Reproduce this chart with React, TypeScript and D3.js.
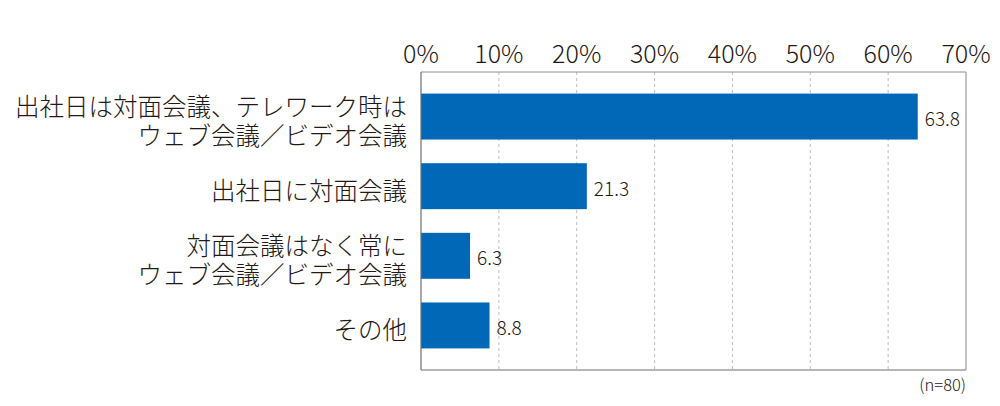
import React from "react";
import * as d3 from "d3";

const categories: string[][] = [
  ["出社日は対面会議、テレワーク時は", "ウェブ会議／ビデオ会議"],
  ["出社日に対面会議"],
  ["対面会議はなく常に", "ウェブ会議／ビデオ会議"],
  ["その他"],
];
const values: number[] = [63.8, 21.3, 6.3, 8.8];
const ticks: number[] = [0, 10, 20, 30, 40, 50, 60, 70];
const note = "(n=80)";

const W = 1000;
const H = 406;
const left = 421;
const right = 966;
const top = 72;
const bottom = 370;
const FONT = "'Noto Sans CJK JP', 'Noto Sans', sans-serif";
const TEXT = "#231815";
const BAR = "#0068b7";

export default function App() {
  const x = d3.scaleLinear().domain([0, 70]).range([left, right]);
  const y = d3
    .scaleBand<number>()
    .domain(values.map((_, i) => i))
    .range([top, bottom])
    .paddingInner(0.34)
    .paddingOuter(0.31);
  const bw = y.bandwidth();

  return (
    <svg
      width={W}
      height={H}
      viewBox={`0 0 ${W} ${H}`}
      style={{ position: "absolute", left: 0, top: 0, background: "#fff" }}
      fontFamily={FONT}
    >
      <rect x={0} y={0} width={W} height={H} fill="#fff" />
      {ticks.slice(1, -1).map((t) => (
        <line
          key={"g" + t}
          x1={x(t)}
          x2={x(t)}
          y1={top}
          y2={bottom}
          stroke="#bdbdbd"
          strokeWidth={1}
          strokeDasharray="3,3"
        />
      ))}
      <line x1={left} x2={right} y1={top} y2={top} stroke="#8c8c8c" strokeWidth={1} />
      <line x1={right} x2={right} y1={top} y2={bottom} stroke="#b0b0b0" strokeWidth={1.5} />
      {ticks.map((t) => (
        <text
          key={"t" + t}
          x={x(t)}
          y={63}
          textAnchor="middle"
          fontSize={25}
          fontWeight={300}
          fill={TEXT}
        >
          {t}%
        </text>
      ))}
      {values.map((v, i) => (
        <rect
          key={"b" + i}
          x={x(0)}
          y={y(i)!}
          width={x(v) - x(0)}
          height={bw}
          fill={BAR}
        />
      ))}
      {values.map((v, i) => (
        <text
          key={"v" + i}
          x={x(v) + 7}
          y={y(i)! + bw / 2 + 9.5}
          fontSize={19}
          fontWeight={300}
          fill={TEXT}
        >
          {v.toFixed(1)}
        </text>
      ))}
      {categories.map((lines, i) => {
        const c = y(i)! + bw / 2;
        return (
          <text
            key={"c" + i}
            textAnchor="end"
            fontSize={24.5}
            fontWeight={300}
            fill={TEXT}
          >
            {lines.map((ln, j) => (
              <tspan key={j} x={407} y={c + 14 + (j - (lines.length - 1) / 2) * 29}>
                {ln}
              </tspan>
            ))}
          </text>
        );
      })}
      <line x1={left} x2={left} y1={top} y2={bottom} stroke="#6e6e6e" strokeWidth={1.2} />
      <line x1={left} x2={right} y1={bottom} y2={bottom} stroke="#6e6e6e" strokeWidth={1.2} />
      <text x={right} y={391} textAnchor="end" fontSize={16.5} fontWeight={300} fill={TEXT}>
        {note}
      </text>
    </svg>
  );
}
